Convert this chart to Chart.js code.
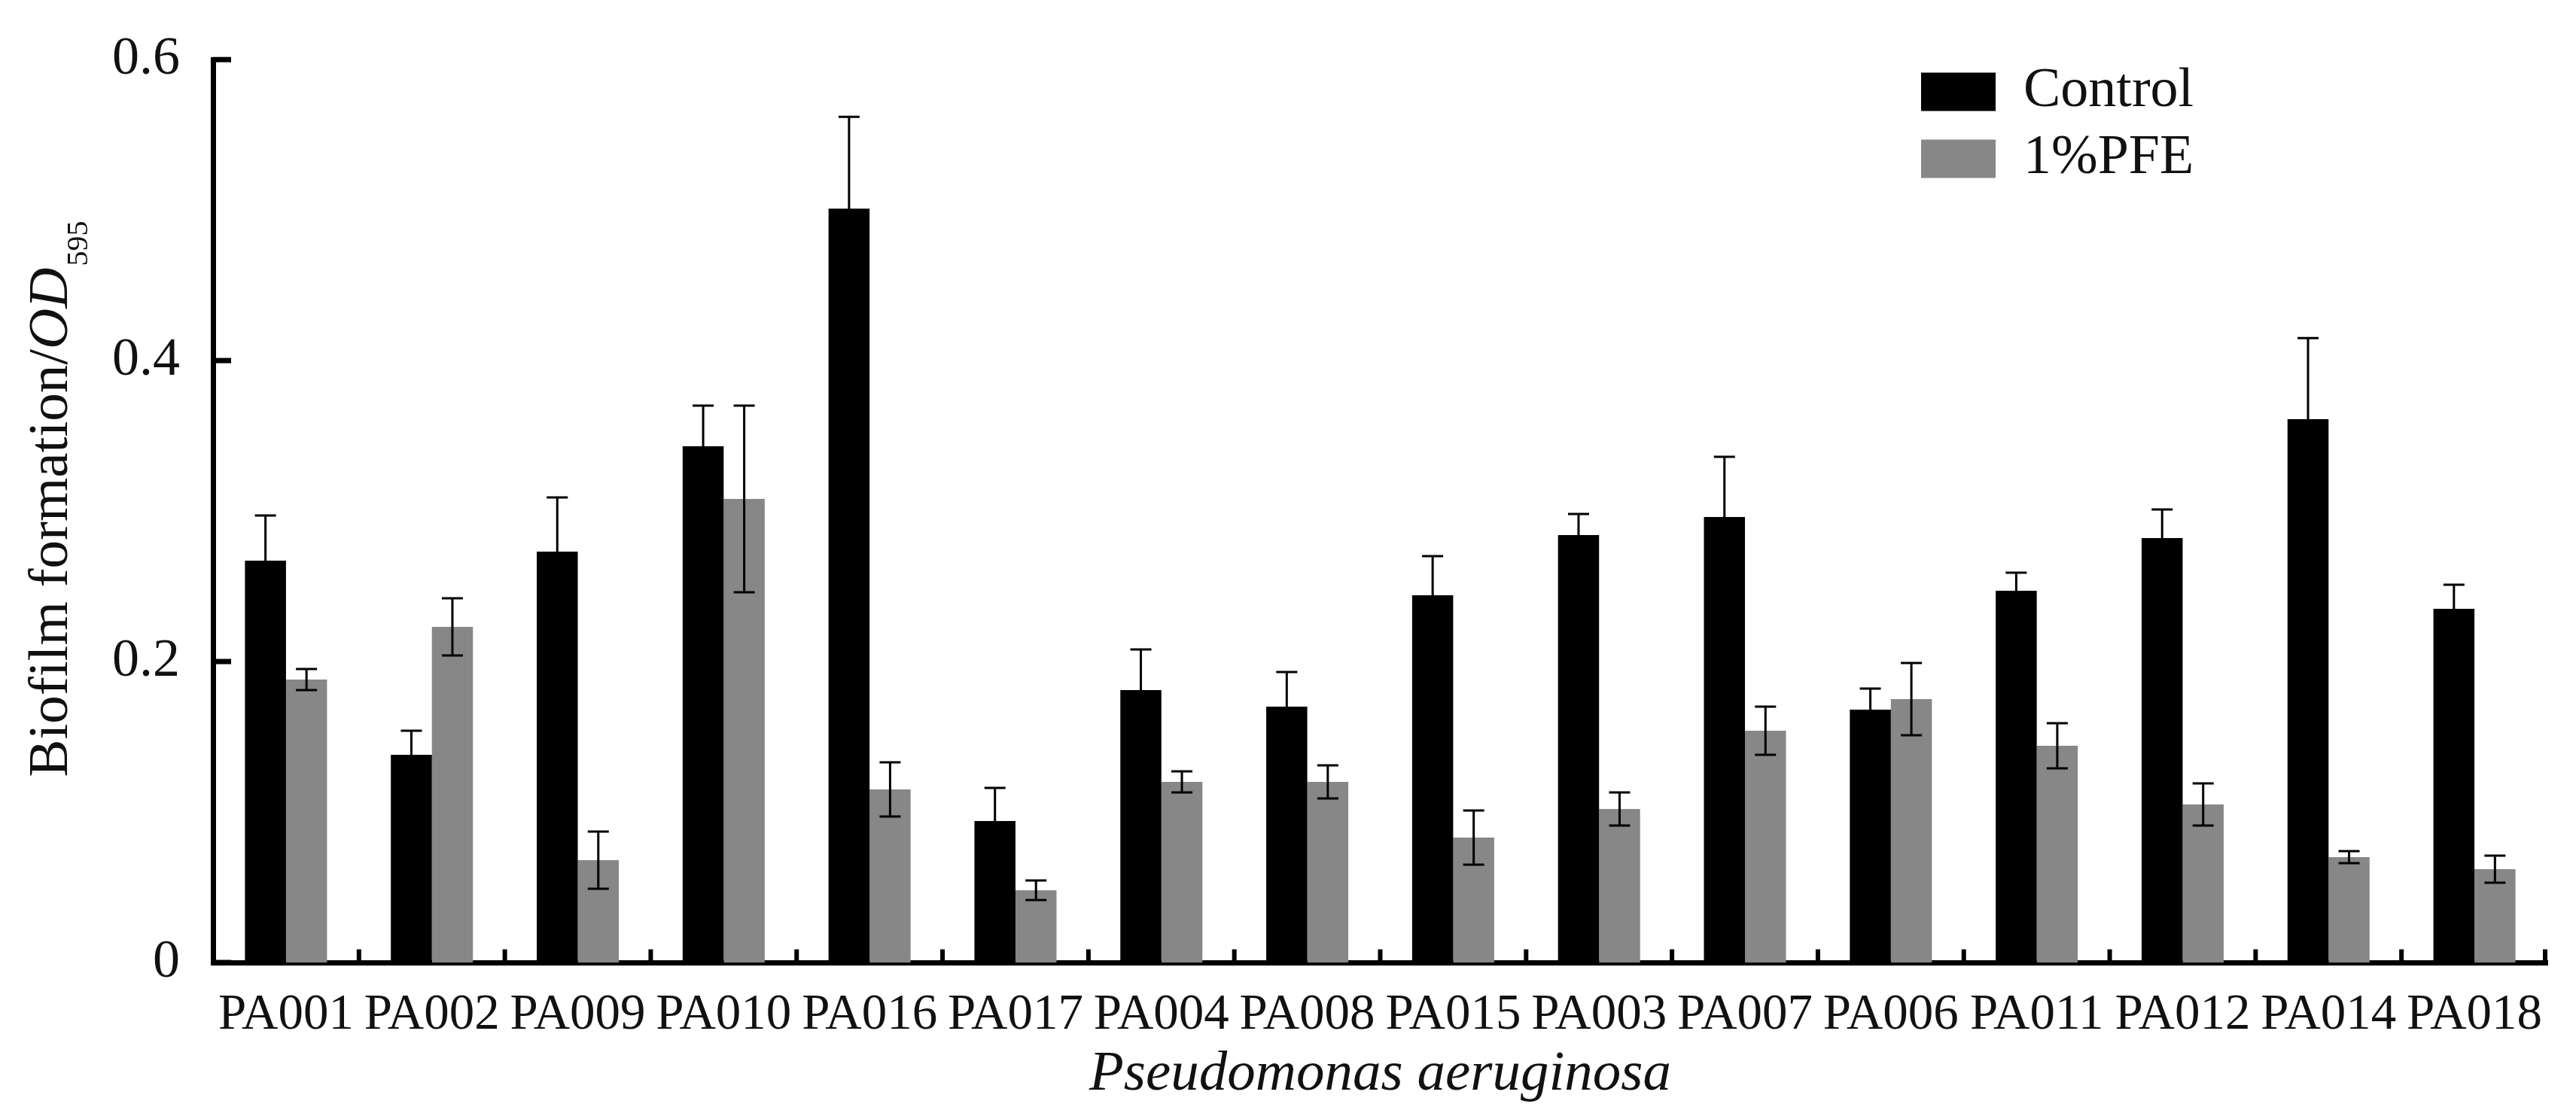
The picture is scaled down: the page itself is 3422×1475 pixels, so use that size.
<!DOCTYPE html>
<html>
<head>
<meta charset="utf-8">
<script src="https://cdn.jsdelivr.net/npm/chart.js@4.4.1/dist/chart.umd.min.js"></script>
<style>
  html, body { margin: 0; padding: 0; background: #fff; }
  #wrap { width: 3422px; height: 1475px; }
</style>
</head>
<body>
<div id="wrap"><canvas id="c" width="3422" height="1475"></canvas></div>
<script>
const categories = ['PA001','PA002','PA009','PA010','PA016','PA017','PA004','PA008','PA015','PA003','PA007','PA006','PA011','PA012','PA014','PA018'];
const controlValues = [0.267, 0.138, 0.273, 0.343, 0.501, 0.094, 0.181, 0.170, 0.244, 0.284, 0.296, 0.168, 0.247, 0.282, 0.361, 0.235];
const controlErrors = [0.030, 0.016, 0.036, 0.027, 0.061, 0.022, 0.027, 0.023, 0.026, 0.014, 0.040, 0.014, 0.012, 0.019, 0.054, 0.016];
const pfeValues = [0.188, 0.223, 0.068, 0.308, 0.115, 0.048, 0.120, 0.120, 0.083, 0.102, 0.154, 0.175, 0.144, 0.105, 0.070, 0.062];
const pfeErrors = [0.007, 0.019, 0.019, 0.062, 0.018, 0.0065, 0.007, 0.011, 0.018, 0.011, 0.016, 0.024, 0.015, 0.014, 0.004, 0.009];
const yTickLabels = ['0', '0.2', '0.4', '0.6'];
const seriesNames = ['Control', '1%PFE'];
const xTitle = 'Pseudomonas aeruginosa';
const yTitleParts = ['Biofilm formation/', 'OD', '595'];

const FONT = '"Liberation Serif", "Times New Roman", serif';
const TEXT = '#111';

const errorBars = {
  id: 'errorBars',
  afterDatasetsDraw(chart) {
    const ctx = chart.ctx;
    const ys = chart.scales.y;
    const errs = [controlErrors, pfeErrors];
    ctx.save();
    ctx.strokeStyle = '#000';
    ctx.lineWidth = 3;
    chart.data.datasets.forEach((ds, d) => {
      const meta = chart.getDatasetMeta(d);
      meta.data.forEach((bar, i) => {
        const v = ds.data[i], e = errs[d][i];
        const x = bar.x;
        const yTop = ys.getPixelForValue(v + e);
        const yBot = ys.getPixelForValue(v - e);
        ctx.beginPath();
        ctx.moveTo(x, yTop); ctx.lineTo(x, yBot);
        ctx.moveTo(x - 14, yTop); ctx.lineTo(x + 14, yTop);
        ctx.moveTo(x - 14, yBot); ctx.lineTo(x + 14, yBot);
        ctx.stroke();
      });
    });
    ctx.restore();
  }
};

const axisMarks = {
  id: 'axisMarks',
  afterDraw(chart) {
    const ctx = chart.ctx;
    const ys = chart.scales.y, xs = chart.scales.x;
    const area = chart.chartArea;
    ctx.save();
    ctx.fillStyle = '#000';
    // inward y ticks
    ys.ticks.forEach((t, i) => {
      const py = ys.getPixelForTick(i);
      ctx.fillRect(area.left, py - 3.5, 24, 7);
    });
    // x category boundary ticks (pointing up)
    const n = categories.length;
    for (let i = 1; i <= n; i++) {
      const px = i < n ? (xs.getPixelForValue(i - 1) + xs.getPixelForValue(i)) / 2 : area.right - 3;
      ctx.fillRect(px - 3, area.bottom - 3.5 - 14, 6, 15);
    }
    // y title with italic OD and subscript
    const fs = 75, sub = 40;
    ctx.fillStyle = TEXT;
    ctx.textBaseline = 'alphabetic';
    ctx.textAlign = 'left';
    ctx.font = fs + 'px ' + FONT;
    const w1 = ctx.measureText(yTitleParts[0]).width;
    ctx.font = 'italic ' + fs + 'px ' + FONT;
    const w2 = ctx.measureText(yTitleParts[1]).width;
    ctx.font = sub + 'px ' + FONT;
    const w3 = ctx.measureText(yTitleParts[2]).width;
    const total = w1 + w2 + w3;
    const cy = (area.top + area.bottom) / 2 - 15;
    ctx.translate(89, cy + total / 2);
    ctx.rotate(-Math.PI / 2);
    ctx.font = fs + 'px ' + FONT;
    ctx.fillText(yTitleParts[0], 0, 0);
    ctx.font = 'italic ' + fs + 'px ' + FONT;
    ctx.fillText(yTitleParts[1], w1, 0);
    ctx.font = sub + 'px ' + FONT;
    ctx.fillText(yTitleParts[2], w1 + w2 + 2, 27);
    ctx.restore();
  }
};

const legendPlace = {
  id: 'legendPlace',
  afterLayout(chart) {
    const lg = chart.legend;
    if (!lg) return;
    const w = lg.width, h = lg.height;
    lg.left = 2537; lg.top = 70;
    lg.right = lg.left + w; lg.bottom = lg.top + h;
  }
};

new Chart(document.getElementById('c'), {
  type: 'bar',
  data: {
    labels: categories,
    datasets: [
      { label: seriesNames[0], data: controlValues, backgroundColor: '#000000', borderWidth: 0 },
      { label: seriesNames[1], data: pfeValues, backgroundColor: '#878787', borderWidth: 0 }
    ]
  },
  options: {
    responsive: false,
    devicePixelRatio: 1,
    animation: false,
    layout: { padding: { left: 0, right: 38, top: 35, bottom: 0 } },
    datasets: { bar: { categoryPercentage: 0.5625, barPercentage: 1.0 } },
    plugins: {
      tooltip: { enabled: false },
      legend: {
        position: 'chartArea',
        align: 'start',
        labels: {
          boxWidth: 99,
          boxHeight: 51,
          padding: 15,
          color: TEXT,
          font: { family: FONT, size: 74 }
        }
      }
    },
    scales: {
      x: {
        grid: { display: false },
        border: { display: true, width: 7, color: '#000' },
        ticks: {
          color: TEXT,
          font: { family: FONT, size: 67 },
          padding: 22,
          autoSkip: false,
          maxRotation: 0,
          minRotation: 0
        },
        title: {
          display: true,
          text: xTitle,
          color: TEXT,
          font: { family: FONT, size: 75, style: 'italic' },
          padding: { top: 0, bottom: 2 }
        },
        afterFit(s) { s.height = 196; }
      },
      y: {
        min: 0,
        max: 0.6,
        grid: { display: false },
        border: { display: true, width: 7, color: '#000' },
        ticks: {
          stepSize: 0.2,
          color: TEXT,
          font: { family: FONT, size: 72 },
          padding: 36,
          callback: (v) => yTickLabels[Math.round(v / 0.2)]
        },
        afterFit(s) { s.width = 283; }
      }
    }
  },
  plugins: [errorBars, axisMarks, legendPlace]
});
</script>
</body>
</html>
